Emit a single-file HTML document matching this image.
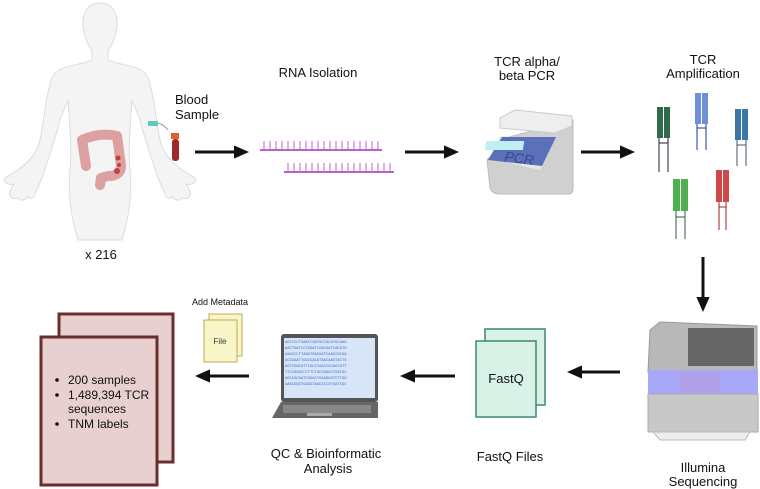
<!DOCTYPE html>
<html><head><meta charset="utf-8"><style>
body{margin:0;background:#fff;}
svg{display:block;font-family:"Liberation Sans",sans-serif;}
</style></head><body>
<svg width="760" height="489" viewBox="0 0 760 489" xmlns="http://www.w3.org/2000/svg">
<defs>
<marker id="ah" markerWidth="6" markerHeight="6" refX="0" refY="2.2" orient="auto" markerUnits="strokeWidth"><path d="M0,0 L5,2.2 L0,4.4 z" fill="#111"/></marker>
</defs>
<!-- human -->
<g fill="#f4f4f4" stroke="#dcdcdc" stroke-width="1">
<path d="M100,3 C88,3 82,13 83,26 C84,38 90,48 92,50 L92,60 C80,66 58,64 52,78 C46,95 44,120 40,140 C36,158 22,168 5,178 C3,182 8,186 14,184 C6,195 10,200 18,198 C20,202 26,200 28,196 C30,200 34,198 35,194 L42,178 C48,160 55,140 60,120 L68,100 C70,130 72,150 70,170 C68,190 70,215 78,240 L122,240 C130,215 132,190 130,170 C128,150 130,130 132,100 L140,120 C145,140 152,160 158,178 L165,194 C166,198 170,200 172,196 C174,200 180,202 182,198 C190,200 194,195 186,184 C192,186 197,182 195,178 C178,168 164,158 160,140 C156,120 154,95 148,78 C142,64 120,66 108,60 L108,50 C110,48 116,38 117,26 C118,13 112,3 100,3 Z"/>
</g>
<!-- colon -->
<path d="M86,166 L82,140 Q100,132 117,136 L121,166 Q121,176 108,176 L101,178 L100,185" fill="none" stroke="#dca0a0" stroke-width="10" stroke-linecap="round" stroke-linejoin="round"/>
<circle cx="118" cy="158" r="2.5" fill="#c04040"/><circle cx="119" cy="165" r="2" fill="#c04040"/><circle cx="117" cy="171" r="3" fill="#c04040"/>
<!-- blood tube -->
<path d="M152,125 Q160,120 168,130" fill="none" stroke="#999" stroke-width="1"/>
<rect x="148" y="121" width="10" height="5" fill="#5cc8c0"/>
<rect x="171" y="133" width="8" height="6" fill="#e06030"/>
<rect x="172" y="139" width="7" height="22" rx="3" fill="#a02828"/>
<g font-size="13" fill="#111">
<text x="175" y="104">Blood</text><text x="175" y="119">Sample</text>
<text x="318" y="77" text-anchor="middle">RNA Isolation</text>
<text x="527" y="66" text-anchor="middle">TCR alpha/</text>
<text x="527" y="80" text-anchor="middle">beta PCR</text>
<text x="703" y="64" text-anchor="middle">TCR</text>
<text x="703" y="78" text-anchor="middle">Amplification</text>
<text x="101" y="259" text-anchor="middle">x 216</text>
<text x="703" y="472" text-anchor="middle">Illumina</text>
<text x="703" y="486" text-anchor="middle">Sequencing</text>
<text x="510" y="461" text-anchor="middle">FastQ Files</text>
<text x="326" y="458" text-anchor="middle">QC &amp; Bioinformatic</text>
<text x="328" y="473" text-anchor="middle">Analysis</text>
</g>
<!-- arrows -->
<g stroke="#111" stroke-width="3" marker-end="url(#ah)">
<line x1="195" y1="152" x2="234" y2="152"/>
<line x1="405" y1="152" x2="444" y2="152"/>
<line x1="581" y1="152" x2="620" y2="152"/>
<line x1="703" y1="257" x2="703" y2="297"/>
<line x1="620" y1="372" x2="582" y2="372"/>
<line x1="455" y1="376" x2="415" y2="376"/>
<line x1="249" y1="376" x2="210" y2="376"/>
</g>
<!-- RNA -->
<g stroke="#c060d0" stroke-width="2">
<line x1="260" y1="150" x2="382" y2="150"/>
<line x1="284" y1="172" x2="394" y2="172"/>
</g>
<g stroke="#c060d0" stroke-width="1">
<path d="M264,150v-9M270,150v-9M276,150v-9M282,150v-9M288,150v-9M294,150v-9M300,150v-9M306,150v-9M312,150v-9M318,150v-9M324,150v-9M330,150v-9M336,150v-9M342,150v-9M348,150v-9M354,150v-9M360,150v-9M366,150v-9M372,150v-9M378,150v-9"/>
<path d="M288,172v-9M294,172v-9M300,172v-9M306,172v-9M312,172v-9M318,172v-9M324,172v-9M330,172v-9M336,172v-9M342,172v-9M348,172v-9M354,172v-9M360,172v-9M366,172v-9M372,172v-9M378,172v-9M384,172v-9M390,172v-9"/>
</g>
<!-- PCR -->
<path d="M487,160 L490,188 Q492,194 500,194 L568,194 Q573,194 573,188 L573,120 L505,138 Z" fill="#d0d0d0" stroke="#bbb"/>
<path d="M488,158 L500,136 L552,140 L540,170 Z" fill="#e8e8e8"/>
<path d="M502,137 L556,137 L542,166 L488,160 Z" fill="#5a70b8"/>
<rect x="506" y="141" width="38" height="9" fill="#bfeff0" transform="skewX(-8)"/>
<text x="504" y="161" font-size="14" font-style="italic" fill="#3a4a8a" transform="rotate(8 504 161)">PCR</text>
<path d="M500,118 L515,110 L572,116 L572,126 L555,133 L500,128 Z" fill="#eee" stroke="#ccc"/>
<!-- TCRs -->
<g stroke-width="1">
<g transform="translate(657,107)"><rect x="0" y="0" width="6" height="31" fill="#2f6a4a"/><rect x="7" y="0" width="6" height="31" fill="#2f6a4a"/><path d="M2,31v34M11,31v34M2,36h9" stroke="#223" fill="none"/></g>
<g transform="translate(695,93)"><rect x="0" y="0" width="6" height="31" fill="#6f8fd8"/><rect x="7" y="0" width="6" height="31" fill="#6f8fd8"/><path d="M2,31v26M11,31v26M2,35h9" stroke="#2030a0" fill="none"/></g>
<g transform="translate(735,109)"><rect x="0" y="0" width="6" height="31" fill="#3a78a8"/><rect x="7" y="0" width="6" height="31" fill="#3a78a8"/><path d="M2,31v26M11,31v26M2,36h9" stroke="#456" fill="none"/></g>
<g transform="translate(673,179)"><rect x="0" y="0" width="7" height="32" fill="#50b050"/><rect x="8" y="0" width="7" height="32" fill="#50b050"/><path d="M3,32v28M12,32v28M3,38h9" stroke="#2a5a4a" fill="none"/></g>
<g transform="translate(716,170)"><rect x="0" y="0" width="6" height="32" fill="#d04848"/><rect x="7" y="0" width="6" height="32" fill="#d04848"/><path d="M3,32v28M10,32v28M3,37h7" stroke="#a02020" fill="none"/></g>
</g>
<!-- sequencer -->
<path d="M650,330 L660,322 L757,326 L757,372 L648,372 Z" fill="#b8b8b8" stroke="#999"/>
<rect x="688" y="328" width="66" height="38" fill="#666"/>
<rect x="648" y="370" width="110" height="24" fill="#a8a8f8"/>
<rect x="680" y="372" width="40" height="20" fill="#b0a0e8"/>
<path d="M648,394 L758,394 L758,432 L648,432 Z" fill="#c8c8c8" stroke="#aaa"/>
<path d="M653,432 L750,432 L745,440 L660,440 Z" fill="#eee" stroke="#bbb"/>
<!-- FastQ -->
<rect x="485" y="329" width="60" height="76" fill="#d8f2e8" stroke="#3a8a6a" stroke-width="1.5"/>
<rect x="476" y="341" width="60" height="76" fill="#d8f2e8" stroke="#3a8a6a" stroke-width="1.5"/>
<text x="506" y="383" font-size="13" text-anchor="middle" fill="#111">FastQ</text>
<!-- laptop -->
<rect x="281" y="334" width="97" height="68" rx="3" fill="#555"/>
<rect x="284" y="338" width="91" height="60" fill="#d8e4f8"/>
<g font-size="3.8" fill="#3a6ad0" font-family="Liberation Mono,monospace">
<text x="285" y="343">AGTCCCTGAATCGATGCTACATGCAAG</text>
<text x="285" y="349">AACTGATCCTAGATCGACGATCACGTG</text>
<text x="285" y="355">AAACCCTTAGATGACGGTCAGCCGCAA</text>
<text x="285" y="361">GCGGAATTGGCGACATAACAAGTACTG</text>
<text x="285" y="367">AGTCGGCGTTCGCCTAACCGCAGTATT</text>
<text x="285" y="373">TTCCAGGCCCTTCTGCCGAGCTGATGC</text>
<text x="285" y="379">AGCCACAATCGGGCTGAGGGGTCTTGG</text>
<text x="285" y="385">AAACGGGTGGGGTAACGCCGTGATCGC</text>
</g>
<path d="M281,402 L378,402 L378,418 L272,418 Z" fill="#666"/>
<rect x="283" y="405" width="88" height="8" fill="#888"/>
<rect x="307" y="413" width="25" height="3" fill="#aaa"/>
<!-- Add metadata -->
<text x="220" y="305" font-size="9" text-anchor="middle" fill="#111">Add Metadata</text>
<rect x="209" y="314" width="33" height="42" fill="#f8f6c8" stroke="#c0a850"/>
<rect x="204" y="320" width="33" height="42" fill="#f8f6c8" stroke="#c0a850"/>
<text x="220" y="344" font-size="8" text-anchor="middle" fill="#333">File</text>
<!-- docs -->
<rect x="59" y="314" width="114" height="148" fill="#e8d0d0" stroke="#6b2e2e" stroke-width="3"/>
<rect x="41" y="337" width="116" height="148" fill="#e8d0d0" stroke="#6b2e2e" stroke-width="3"/>
<g font-size="12" fill="#111">
<circle cx="57" cy="380" r="1.8"/><text x="68" y="384">200 samples</text>
<circle cx="57" cy="395" r="1.8"/><text x="68" y="399">1,489,394 TCR</text>
<text x="68" y="413">sequences</text>
<circle cx="57" cy="424" r="1.8"/><text x="68" y="428">TNM labels</text>
</g>
</svg>
</body></html>
